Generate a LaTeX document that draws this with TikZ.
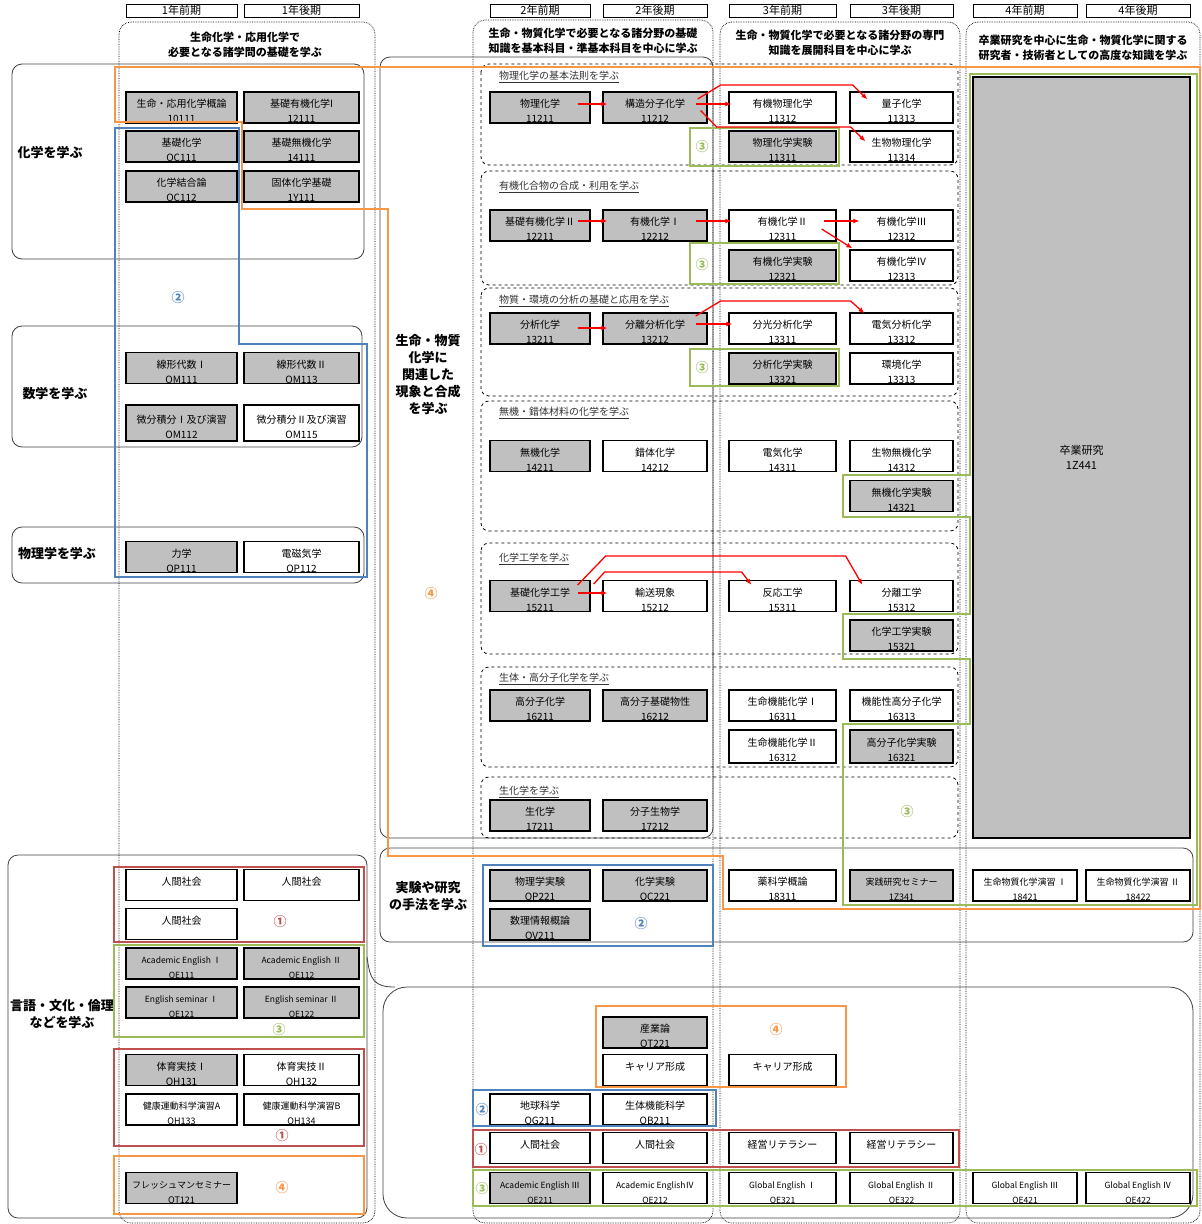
\documentclass[tikz,border=0pt]{standalone}
\usepackage{fontspec}
\setmainfont{Noto Sans CJK JP}
\usetikzlibrary{arrows.meta}
\definecolor{cgray}{HTML}{C0C0C0}
\definecolor{corange}{HTML}{F79646}
\definecolor{cblue}{HTML}{4F81BD}
\definecolor{cred}{HTML}{C0504D}
\definecolor{cgreen}{HTML}{9BBB59}
\def\bx#1{\fontsize{#1}{#1}\selectfont}
\def\ttl#1{\underline{#1}}
\begin{document}
\begin{tikzpicture}[x=1pt,y=-1pt,
  crs/.style={draw, line width=1.3pt, minimum width=#1, minimum height=31pt, inner sep=0pt, align=center,
    font=\fontsize{10}{15}\selectfont, text height=30pt, text depth=0pt},
  crs/.default=104pt,
  gcrs/.style={crs=#1, fill=cgray},
  gcrs/.default=104pt,
  eng/.style={font=\fontsize{8.5}{15}\selectfont},
  sml/.style={font=\fontsize{9}{15}\selectfont},
  hdr/.style={draw, line width=0.8pt, minimum width=#1, minimum height=13pt, inner sep=0pt, font=\bx{11}},
  colfr/.style={densely dotted, line width=0.7pt, rounded corners=12},
  cat/.style={draw=black!75, line width=0.8pt, rounded corners=10},
  sect/.style={draw, dashed, line width=0.8pt, rounded corners=8},
  big/.style={font=\bfseries\fontsize{13}{17}\selectfont, align=center, inner sep=0pt},
  head/.style={font=\bfseries\fontsize{11}{15}\selectfont, align=center, inner sep=0pt},
  sub/.style={anchor=west, font=\bx{10}, text=black!80, inner sep=0pt},
  num/.style={font=\bfseries\bx{13}, inner sep=0pt},
  org/.style={draw=corange, line width=2pt},
  blu/.style={draw=cblue, line width=2pt},
  rd/.style={draw=cred, line width=2pt},
  grn/.style={draw=cgreen, line width=2pt},
  arr/.style={draw=red, line width=1.3pt, -{Latex[length=6pt,width=5pt]}}]
\useasboundingbox (0,0) rectangle (1202,1224);
%
% year frames and headers
\draw[colfr] (119,22) rectangle (375,1223);
\draw[colfr] (473,20) rectangle (713,1223);
\draw[colfr] (720,22) rectangle (960,1223);
\draw[colfr] (966,22) rectangle (1200,1223);
\node [hdr=111pt] at (181.5,10.5) (h1a) {1年前期};
\node [hdr=115pt] at (301.5,10.5) (h1b) {1年後期};
\node [hdr=100pt] at (540,10.5) (h2a) {2年前期};
\node [hdr=104pt] at (655,10.5) (h2b) {2年後期};
\node [hdr=107pt] at (782.5,10.5) (h3a) {3年前期};
\node [hdr=103pt] at (901.5,10.5) (h3b) {3年後期};
\node [hdr=104pt] at (1025,10.5) (h4a) {4年前期};
\node [hdr=104pt] at (1138,10.5) (h4b) {4年後期};
\node [head] at (245,45) (t1) {生命化学・応用化学で\\必要となる諸学問の基礎を学ぶ};
\node [head] at (593,41) (t2) {生命・物質化学で必要となる諸分野の基礎\\知識を基本科目・準基本科目を中心に学ぶ};
\node [head] at (840,43) (t3) {生命・物質化学で必要となる諸分野の専門\\知識を展開科目を中心に学ぶ};
\node [head] at (1083,48) (t4) {卒業研究を中心に生命・物質化学に関する\\研究者・技術者としての高度な知識を学ぶ};
%
% subject areas
\draw[cat] (12,64) rectangle (364,259);
\draw[cat] (12,326) rectangle (362,447);
\draw[cat] (12,527) rectangle (364,583);
\draw[cat] (8,855) rectangle (367,1218);
\draw[cat] (380,57) rectangle (713,838);
\draw[cat] (380,848) rectangle (1193,942);
\draw[cat, rounded corners=24] (383,987) rectangle (1193,1218);
\draw[draw=black!75, line width=0.8pt] (367,957) .. controls (370,980) and (374,987) .. (395,987);
\node [big] at (50,153) (l1) {化学を学ぶ};
\node [big] at (55,394) (l2) {数学を学ぶ};
\node [big] at (57,554) (l3) {物理学を学ぶ};
\node [big] at (62,1014) (l4) {言語・文化・倫理\\などを学ぶ};
\node [big] at (428,375) (l5) {生命・物質\\化学に\\関連した\\現象と合成\\を学ぶ};
\node [big] at (428,896) (l6) {実験や研究\\の手法を学ぶ};
%
\draw[sect] (481,64) rectangle (958,165);
\draw[sect] (481,171) rectangle (958,285);
\draw[sect] (481,288) rectangle (958,396);
\draw[sect] (481,401) rectangle (958,531);
\draw[sect] (481,543) rectangle (958,654);
\draw[sect] (481,667) rectangle (958,767);
\draw[sect] (481,777) rectangle (958,838);
\node [sub] at (499,77) (s1) {\ttl{物理化学の基本法則を学ぶ}};
\node [sub] at (499,187) (s2) {\ttl{有機化合物の合成・利用を学ぶ}};
\node [sub] at (499,301) (s3) {\ttl{物質・環境の分析の基礎と応用を学ぶ}};
\node [sub] at (499,413) (s4) {\ttl{無機・錯体材料の化学を学ぶ}};
\node [sub] at (499,559) (s5) {\ttl{化学工学を学ぶ}};
\node [sub] at (499,679) (s6) {\ttl{生体・高分子化学を学ぶ}};
\node [sub] at (499,792) (s7) {\ttl{生化学を学ぶ}};
%
% 1st year
\node [gcrs=111pt] at (181.5,107.5) (c10111) {生命・応用化学概論\\10111};
\node [gcrs=115pt] at (301.5,107.5) (c12111) {基礎有機化学I\\12111};
\node [gcrs=111pt] at (181.5,146.5) (cOC111) {基礎化学\\OC111};
\node [gcrs=115pt] at (301.5,146.5) (c14111) {基礎無機化学\\14111};
\node [gcrs=111pt] at (181.5,186.5) (cOC112) {化学結合論\\OC112};
\node [gcrs=115pt] at (301.5,186.5) (c1Y111) {固体化学基礎\\1Y111};
\node [gcrs=111pt] at (181.5,368) (cOM111) {線形代数Ⅰ\\OM111};
\node [gcrs=115pt] at (301.5,368) (cOM113) {線形代数Ⅱ\\OM113};
\node [gcrs=111pt, minimum height=36pt] at (181.5,423) (cOM112) {微分積分Ⅰ及び演習\\OM112};
\node [crs=115pt, minimum height=36pt] at (301.5,423) (cOM115) {微分積分Ⅱ及び演習\\OM115};
\node [gcrs=111pt] at (181.5,557) (cOP111) {力学\\OP111};
\node [crs=115pt] at (301.5,557) (cOP112) {電磁気学\\OP112};
\node [crs=111pt] at (181.5,885) (nin1) {人間社会\\~};
\node [crs=115pt] at (301.5,885) (nin2) {人間社会\\~};
\node [crs=111pt] at (181.5,924) (nin3) {人間社会\\~};
\node [gcrs=111pt, eng] at (181.5,963.5) (cOE111) {Academic English Ⅰ\\OE111};
\node [gcrs=115pt, eng] at (301.5,963.5) (cOE112) {Academic English Ⅱ\\OE112};
\node [gcrs=111pt, eng] at (181.5,1002.5) (cOE121) {English seminar Ⅰ\\OE121};
\node [gcrs=115pt, eng] at (301.5,1002.5) (cOE122) {English seminar Ⅱ\\OE122};
\node [gcrs=111pt] at (181.5,1070) (cOH131) {体育実技Ⅰ\\OH131};
\node [crs=115pt] at (301.5,1070) (cOH132) {体育実技Ⅱ\\OH132};
\node [crs=111pt, sml] at (181.5,1109.5) (cOH133) {健康運動科学演習A\\OH133};
\node [crs=115pt, sml] at (301.5,1109.5) (cOH134) {健康運動科学演習B\\OH134};
\node [gcrs=111pt, sml] at (181.5,1188) (cOT121) {フレッシュマンセミナー\\OT121};
%
% 2nd and 3rd year
\node [gcrs=100pt] at (540,107.5) (c11211) {物理化学\\11211};
\node [gcrs=104pt] at (655,107.5) (c11212) {構造分子化学\\11212};
\node [crs=107pt] at (782.5,107.5) (c11312) {有機物理化学\\11312};
\node [crs=103pt] at (901.5,107.5) (c11313) {量子化学\\11313};
\node [gcrs=107pt] at (782.5,146.5) (c11311) {物理化学実験\\11311};
\node [crs=103pt] at (901.5,146.5) (c11314) {生物物理化学\\11314};
\node [gcrs=100pt] at (540,225.5) (c12211) {基礎有機化学Ⅱ\\12211};
\node [gcrs=104pt] at (655,225.5) (c12212) {有機化学Ⅰ\\12212};
\node [crs=107pt] at (782.5,225.5) (c12311) {有機化学Ⅱ\\12311};
\node [crs=103pt] at (901.5,225.5) (c12312) {有機化学Ⅲ\\12312};
\node [gcrs=107pt] at (782.5,265.5) (c12321) {有機化学実験\\12321};
\node [crs=103pt] at (901.5,265.5) (c12313) {有機化学Ⅳ\\12313};
\node [gcrs=100pt] at (540,328.5) (c13211) {分析化学\\13211};
\node [gcrs=104pt] at (655,328.5) (c13212) {分離分析化学\\13212};
\node [crs=107pt] at (782.5,328.5) (c13311) {分光分析化学\\13311};
\node [crs=103pt] at (901.5,328.5) (c13312) {電気分析化学\\13312};
\node [gcrs=107pt] at (782.5,368.5) (c13321) {分析化学実験\\13321};
\node [crs=103pt] at (901.5,368.5) (c13313) {環境化学\\13313};
\node [gcrs=100pt] at (540,456) (c14211) {無機化学\\14211};
\node [crs=104pt] at (655,456) (c14212) {錯体化学\\14212};
\node [crs=107pt] at (782.5,456) (c14311) {電気化学\\14311};
\node [crs=103pt] at (901.5,456) (c14312) {生物無機化学\\14312};
\node [gcrs=103pt] at (901.5,496) (c14321) {無機化学実験\\14321};
\node [gcrs=100pt] at (540,596) (c15211) {基礎化学工学\\15211};
\node [crs=104pt] at (655,596) (c15212) {輸送現象\\15212};
\node [crs=107pt] at (782.5,596) (c15311) {反応工学\\15311};
\node [crs=103pt] at (901.5,596) (c15312) {分離工学\\15312};
\node [gcrs=103pt] at (901.5,635.5) (c15321) {化学工学実験\\15321};
\node [gcrs=100pt] at (540,705.5) (c16211) {高分子化学\\16211};
\node [gcrs=104pt] at (655,705.5) (c16212) {高分子基礎物性\\16212};
\node [crs=107pt] at (782.5,705.5) (c16311) {生命機能化学Ⅰ\\16311};
\node [crs=103pt] at (901.5,705.5) (c16313) {機能性高分子化学\\16313};
\node [crs=107pt, minimum height=33pt] at (782.5,746.5) (c16312) {生命機能化学Ⅱ\\16312};
\node [gcrs=103pt, minimum height=33pt] at (901.5,746.5) (c16321) {高分子化学実験\\16321};
\node [gcrs=100pt] at (540,815.5) (c17211) {生化学\\17211};
\node [gcrs=104pt] at (655,815.5) (c17212) {分子生物学\\17212};
%
\node [gcrs=100pt] at (540,885.5) (cOP221) {物理学実験\\OP221};
\node [gcrs=104pt] at (655,885.5) (cOC221) {化学実験\\OC221};
\node [gcrs=100pt] at (540,924.5) (cOV211) {数理情報概論\\OV211};
\node [crs=107pt] at (782.5,885.5) (c18311) {薬科学概論\\18311};
\node [gcrs=103pt, sml] at (901.5,885.5) (c1Z341) {実践研究セミナー\\1Z341};
\node [crs=104pt, sml] at (1025,885.5) (c18421) {生命物質化学演習 Ⅰ\\18421};
\node [crs=104pt, sml] at (1138,885.5) (c18422) {生命物質化学演習 Ⅱ\\18422};
\node [gcrs=217pt, minimum height=761pt, font=\fontsize{11}{15}\selectfont, text height=, text depth=] at (1081.5,457.5) (c1Z441) {卒業研究\\1Z441};
%
\node [gcrs=104pt] at (655,1032.5) (cOT221) {産業論\\OT221};
\node [crs=104pt] at (655,1070) (car1) {キャリア形成\\~};
\node [crs=107pt] at (782.5,1070) (car2) {キャリア形成\\~};
\node [crs=100pt] at (540,1109.5) (cOG211) {地球科学\\OG211};
\node [crs=104pt] at (655,1109.5) (cOB211) {生体機能科学\\OB211};
\node [crs=100pt] at (540,1148) (nin4) {人間社会\\~};
\node [crs=104pt] at (655,1148) (nin5) {人間社会\\~};
\node [crs=107pt] at (782.5,1148) (kei1) {経営リテラシー\\~};
\node [crs=103pt] at (901.5,1148) (kei2) {経営リテラシー\\~};
\node [gcrs=100pt, eng] at (540,1188) (cOE211) {Academic English Ⅲ\\OE211};
\node [crs=104pt, eng] at (655,1188) (cOE212) {Academic EnglishⅣ\\OE212};
\node [crs=107pt, eng] at (782.5,1188) (cOE321) {Global English Ⅰ\\OE321};
\node [crs=103pt, eng] at (901.5,1188) (cOE322) {Global English Ⅱ\\OE322};
\node [crs=104pt, eng] at (1025,1188) (cOE421) {Global English Ⅲ\\OE421};
\node [crs=104pt, eng] at (1138,1188) (cOE422) {Global English Ⅳ\\OE422};
%
% coloured groups
\draw[org] (115,67) -- (1200,67) -- (1200,909) -- (723,909) -- (723,856) -- (388,856) -- (388,209) -- (242,209) -- (242,122) -- (115,122) -- cycle;
\draw[blu] (115,128) -- (239,128) -- (239,344) -- (367,344) -- (367,577) -- (115,577) -- cycle;
\draw[grn] (970,74) -- (1197,74) -- (1197,905) -- (843,905) -- (843,724) -- (970,724) -- (970,659) -- (843,659) -- (843,614) -- (970,614) -- (970,517) -- (843,517) -- (843,475) -- (970,475) -- cycle;
\draw[grn] (690,128) rectangle (839,166);
\draw[grn] (690,243) rectangle (839,284);
\draw[grn] (690,349) rectangle (839,386);
\draw[rd] (114,867) rectangle (364,942);
\draw[grn] (114,945) rectangle (364,1037);
\draw[rd] (114,1049) rectangle (364,1146);
\draw[org] (114,1156) rectangle (364,1214);
\draw[blu] (483,865) rectangle (713,946);
\draw[org] (596,1006) rectangle (846,1087);
\draw[blu] (473,1090) rectangle (716,1126);
\draw[rd] (473,1130) rectangle (959,1167);
\draw[grn] (473,1170) rectangle (1197,1206);
\node [num, text=cblue] at (178,298) (m1) {②};
\node [num, text=corange] at (431,594) (m2) {④};
\node [num, text=cgreen] at (702,147) (m3) {③};
\node [num, text=cgreen] at (702,265) (m4) {③};
\node [num, text=cgreen] at (702,368) (m5) {③};
\node [num, text=cgreen] at (907,812) (m6) {③};
\node [num, text=cred] at (280,922) (m7) {①};
\node [num, text=cgreen] at (279,1030) (m8) {③};
\node [num, text=cred] at (282,1136) (m9) {①};
\node [num, text=corange] at (282,1188) (m10) {④};
\node [num, text=cblue] at (641,924) (m11) {②};
\node [num, text=corange] at (776,1030) (m12) {④};
\node [num, text=cblue] at (482,1110) (m13) {②};
\node [num, text=cred] at (481,1150) (m14) {①};
\node [num, text=cgreen] at (482,1189) (m15) {③};
%
% prerequisites
\draw[arr] ([shift={(-13,-3.5)}]c11211.east) -- ([shift={(5,-3.5)}]c11212.west);
\draw[arr] ([shift={(-12,-3.5)}]c11212.east) -- ([shift={(3,-3.5)}]c11312.west);
\draw[arr] ([shift={(-10,-8.5)}]c11212.east) -- ++(23,-14) -- ++(132,0) -- ([shift={(18,8)}]c11313.north west);
\draw[arr] ([shift={(-7,3)}]c11212.east) -- ++(16,16.5) -- ++(134,0) -- ([shift={(16,11)}]c11314.north west);
\draw[arr] ([shift={(-13,-4.5)}]c12211.east) -- ([shift={(5,-4.5)}]c12212.west);
\draw[arr] ([shift={(-12,-4.5)}]c12212.east) -- ([shift={(3,-4.5)}]c12311.west);
\draw[arr] ([shift={(-13,-4.5)}]c12311.east) -- ([shift={(10,-4.5)}]c12312.west);
\draw[arr] ([shift={(-15,3.5)}]c12311.east) -- ([shift={(3,-1)}]c12313.north west);
\draw[arr] ([shift={(-13,-0.5)}]c13211.east) -- ([shift={(5,-0.5)}]c13212.west);
\draw[arr] ([shift={(-12,-4.5)}]c13212.east) -- ([shift={(4,-4.5)}]c13311.west);
\draw[arr] ([shift={(-12,-12.5)}]c13212.east) -- ++(25,-15) -- ++(130,0) -- ([shift={(15,1)}]c13312.north west);
\draw[arr] ([shift={(-13,-3)}]c15211.east) -- ([shift={(5,-3)}]c15212.west);
\draw[arr] ([shift={(-13,-11)}]c15211.east) -- ++(28,-29) -- ++(240,0) -- ([shift={(13,5)}]c15312.north west);
\draw[arr] ([shift={(3,-12)}]c15211.east) -- ++(11,-12) -- ++(137,0) -- ([shift={(23,5)}]c15311.north west);
\end{tikzpicture}
\end{document}
